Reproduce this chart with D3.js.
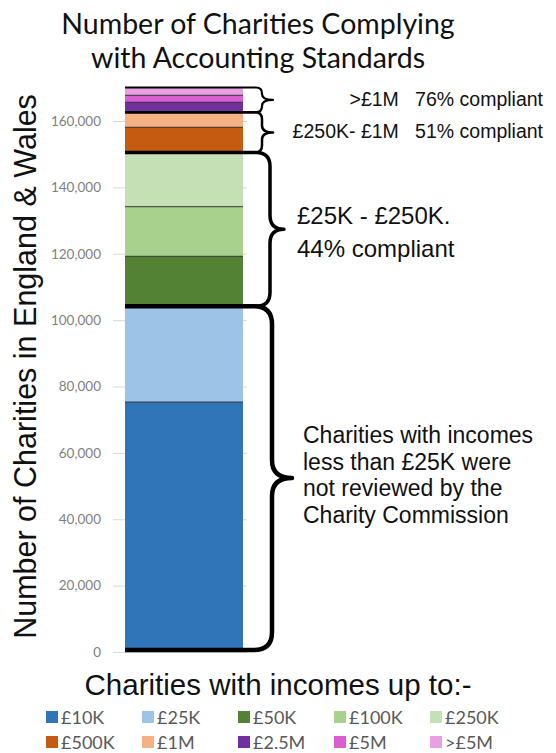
<!DOCTYPE html>
<html>
<head>
<meta charset="utf-8">
<script src="https://cdn.jsdelivr.net/npm/d3@7"></script>
<style>
  body { margin: 0; background: #fff; }
  svg { display: block; }
</style>
</head>
<body>
<script>
var categories = ['£10K', '£25K', '£50K', '£100K', '£250K', '£500K', '£1M', '£2.5M', '£5M', '>£5M'];
var values = [75300, 28900, 15000, 15000, 16300, 7600, 4500, 3000, 2100, 2400];
var colors = ['#2f75b8', '#9dc3e6', '#548235', '#a9d18e', '#c5e0b4', '#c55a11', '#f4b183', '#7030a0', '#d95fd0', '#e8a0e2'];
var yTicks = [0, 20000, 40000, 60000, 80000, 100000, 120000, 140000, 160000];

// groups of segments marked with a brace (index range, inclusive)
var groupFrom = [0, 2, 5, 7];
var groupTo = [1, 4, 6, 9];

var width = 556;
var height = 753;
var barLeft = 125;
var barRight = 243;

var y = d3.scaleLinear()
    .domain([0, 160000])
    .range([652, 121]);

var svg = d3.select('body').append('svg')
    .attr('width', width)
    .attr('height', height);

var lato = 'Lato, "Open Sans", sans-serif';
var sans = '"Liberation Sans", Arial, sans-serif';

// title
var titleLines = ['Number of Charities Complying', 'with Accounting Standards'];
svg.append('g').selectAll('text')
    .data(titleLines)
    .join('text')
    .attr('x', 258)
    .attr('y', function(d, i) { return 34 + i * 34; })
    .attr('text-anchor', 'middle')
    .style('font-family', lato)
    .style('font-size', '28.5px')
    .style('fill', '#111')
    .text(function(d) { return d; });

// y axis: grid + labels
var yAxis = d3.axisLeft(y)
    .tickValues(yTicks)
    .tickFormat(d3.format(','))
    .tickSize(-(247 - 113))
    .tickPadding(12);

var axisG = svg.append('g')
    .attr('class', 'axis y')
    .attr('transform', 'translate(113,0)')
    .call(yAxis);
axisG.select('.domain').remove();
axisG.selectAll('line').attr('stroke', '#d9d9d9');
axisG.selectAll('text')
    .style('font-family', lato)
    .style('font-size', '13.5px')
    .style('fill', '#7f7f7f');

svg.append('text')
    .attr('transform', 'translate(36,' + ((93 + 640) / 2) + ') rotate(-90)')
    .attr('text-anchor', 'middle')
    .style('font-family', sans)
    .style('font-size', '30.5px')
    .style('fill', '#111')
    .text('Number of Charities in England & Wales');

// stacked bar
var tops = d3.cumsum(values);
var bottoms = tops.map(function(t, i) { return t - values[i]; });

svg.append('g').selectAll('rect')
    .data(values)
    .join('rect')
    .attr('x', barLeft)
    .attr('width', barRight - barLeft)
    .attr('y', function(d, i) { return y(tops[i]); })
    .attr('height', function(d, i) { return y(bottoms[i]) - y(tops[i]); })
    .attr('fill', function(d, i) { return colors[i]; });

// thin dividers inside a group
svg.append('g').selectAll('line')
    .data(tops.filter(function(t, i) { return groupTo.indexOf(i) < 0; }))
    .join('line')
    .attr('x1', barLeft).attr('x2', barRight)
    .attr('y1', function(d) { return y(d); })
    .attr('y2', function(d) { return y(d); })
    .attr('stroke', '#1a1a1a')
    .attr('stroke-opacity', 0.7)
    .attr('stroke-width', 1.2);

// braces
function brace(y1, y2, xm, xt, q, ym) {
    if (ym === undefined) ym = (y1 + y2) / 2;
    return 'M' + barLeft + ',' + y1 +
        'L' + (xm - q) + ',' + y1 +
        'Q' + xm + ',' + y1 + ' ' + xm + ',' + (y1 + q) +
        'L' + xm + ',' + (ym - q) +
        'Q' + xm + ',' + ym + ' ' + xt + ',' + ym +
        'Q' + xm + ',' + ym + ' ' + xm + ',' + (ym + q) +
        'L' + xm + ',' + (y2 - q) +
        'Q' + xm + ',' + y2 + ' ' + (xm - q) + ',' + y2 +
        'L' + barLeft + ',' + y2;
}

var braceXm = [272, 270, 262, 262];
var braceXt = [292, 284, 273, 273];
var braceQ = [18, 14, 7, 6];
var braceW = [4.5, 3.5, 2.5, 2.2];

svg.append('g').selectAll('path')
    .data(groupFrom)
    .join('path')
    .attr('d', function(d, g) {
        var yTop = y(tops[groupTo[g]]);
        var yBot = y(bottoms[groupFrom[g]]) - (g === 0 ? 2 : 0);
        return brace(yTop, yBot, braceXm[g], braceXt[g], braceQ[g]);
    })
    .attr('fill', 'none')
    .attr('stroke', '#000')
    .attr('stroke-width', function(d, g) { return braceW[g]; })
    .attr('stroke-linejoin', 'round');

// annotations
function mid(g) { return y((tops[groupTo[g]] + bottoms[groupFrom[g]]) / 2); }

svg.append('text')
    .attr('x', 543).attr('y', mid(3) + 6)
    .attr('text-anchor', 'end')
    .style('font-family', sans).style('font-size', '19.5px').style('fill', '#111')
    .attr('xml:space', 'preserve')
    .text('>£1M   76% compliant');
svg.append('text')
    .attr('x', 543).attr('y', mid(2) + 6)
    .attr('text-anchor', 'end')
    .style('font-family', sans).style('font-size', '19.5px').style('fill', '#111')
    .attr('xml:space', 'preserve')
    .text('£250K- £1M   51% compliant');

var midText = ['£25K - £250K.', '44% compliant'];
svg.append('g').selectAll('text')
    .data(midText)
    .join('text')
    .attr('x', 297)
    .attr('y', function(d, i) { return mid(1) - 5 + i * 33; })
    .style('font-family', sans).style('font-size', '24px').style('fill', '#111')
    .text(function(d) { return d; });

var lowText = ['Charities with incomes', 'less than £25K were', 'not reviewed by the', 'Charity Commission'];
svg.append('g').selectAll('text')
    .data(lowText)
    .join('text')
    .attr('x', 303)
    .attr('y', function(d, i) { return mid(0) - 36 + i * 26.5; })
    .style('font-family', sans).style('font-size', '23px').style('fill', '#111')
    .text(function(d) { return d; });

// legend
svg.append('text')
    .attr('x', 278).attr('y', 695)
    .attr('text-anchor', 'middle')
    .style('font-family', sans).style('font-size', '29.5px').style('fill', '#111')
    .text('Charities with incomes up to:-');

var legendCols = 5;
var legend = svg.append('g').selectAll('g')
    .data(categories)
    .join('g')
    .attr('transform', function(d, i) {
        return 'translate(' + (46 + (i % legendCols) * 96) + ',' + (717 + Math.floor(i / legendCols) * 25) + ')';
    });
legend.append('rect')
    .attr('x', 0).attr('y', -6)
    .attr('width', 12).attr('height', 12)
    .attr('fill', function(d, i) { return colors[i]; });
legend.append('text')
    .attr('x', 15).attr('y', 6.5)
    .style('font-family', lato)
    .style('font-size', '18px')
    .style('fill', '#595959')
    .text(function(d) { return d; });
</script>
</body>
</html>
